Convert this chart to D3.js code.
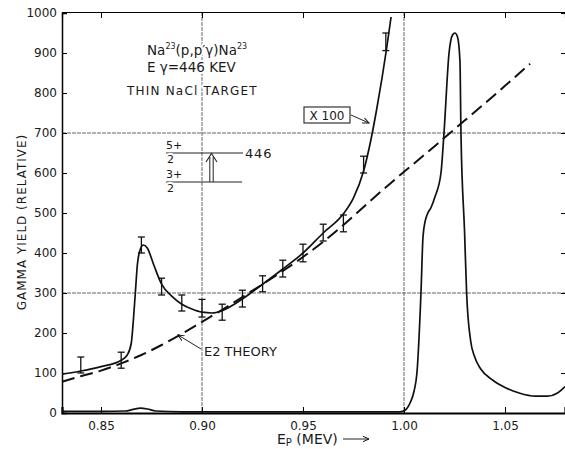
<!DOCTYPE html>
<html>
<head>
<meta charset="utf-8">
<script src="https://cdn.jsdelivr.net/npm/d3@7"></script>
<style>
body { margin: 0; background: #fff; }
text { font-family: "DejaVu Sans", sans-serif; fill: #1a1a1a; }
.halo { paint-order: stroke; stroke: #fff; stroke-width: 4px; stroke-linejoin: round; }
</style>
</head>
<body>
<svg id="chart" width="565" height="449"></svg>
<script>
// axis ticks
const xTicks = [0.85, 0.90, 0.95, 1.00, 1.05];
const xTickLabels = ["0.85", "0.90", "0.95", "1.00", "1.05"];
const yTicks = [0, 100, 200, 300, 400, 500, 600, 700, 800, 900, 1000];
const xGrid = [0.90, 1.00];
const yGrid = [300, 700];

// measured points with error bars (thin target, yield x100)
const ptE   = [0.84, 0.86, 0.87, 0.88, 0.89, 0.90, 0.91, 0.92, 0.93, 0.94, 0.95, 0.96, 0.97, 0.98, 0.991];
const ptY   = [120, 132, 420, 316, 275, 262, 252, 286, 323, 361, 400, 451, 474, 621, 928];
const ptErr = [20, 20, 20, 21, 20, 22, 20, 21, 20, 21, 22, 21, 21, 21, 22];

// solid curve through the points (x100)
const fitE = [0.8307, 0.84, 0.85, 0.86, 0.863, 0.865, 0.866, 0.867, 0.868, 0.8695, 0.871, 0.873, 0.876, 0.88, 0.885, 0.89, 0.895, 0.90, 0.905, 0.91, 0.92, 0.93, 0.94, 0.95, 0.96, 0.97, 0.975, 0.98, 0.9835, 0.9865, 0.9915, 0.9936];
const fitY = [97, 105, 116, 132, 145, 175, 230, 300, 370, 410, 420, 412, 372, 322, 292, 272, 260, 252, 250, 256, 285, 322, 360, 400, 450, 498, 538, 605, 680, 760, 915, 990];

// E2 theory (dashed)
const e2E = [0.8307, 0.84, 0.85, 0.86, 0.87, 0.88, 0.89, 0.90, 0.91, 0.92, 0.93, 0.94, 0.95, 0.96, 0.97, 0.98, 0.99, 1.00, 1.01, 1.02, 1.03, 1.04, 1.05, 1.0624];
const e2Y = [78, 92, 106, 124, 145, 170, 198, 228, 258, 290, 322, 355, 390, 428, 470, 515, 560, 603, 645, 688, 731, 774, 818, 873];

// unscaled yield (lower curve with the 1.025 MeV resonance)
const lowE = [0.8307, 0.85, 0.862, 0.866, 0.8695, 0.873, 0.877, 0.89, 0.95, 0.998, 1.0005, 1.003, 1.005, 1.0064, 1.0084, 1.0094, 1.0105, 1.0114, 1.0135, 1.0153, 1.0183, 1.0198, 1.0223, 1.024, 1.0252, 1.0265, 1.0277, 1.0282, 1.030, 1.031, 1.033, 1.035, 1.038, 1.044, 1.05, 1.057, 1.065, 1.071, 1.076, 1.0797];
const lowY = [4, 4, 5, 9, 12, 10, 5, 3, 3, 3, 7, 25, 55, 100, 300, 440, 480, 495, 515, 540, 600, 700, 900, 945, 950, 940, 880, 700, 450, 300, 180, 140, 110, 82, 64, 50, 42, 42, 50, 66];

const svg = d3.select("#chart");
const x = d3.scaleLinear().domain([0.8307, 1.0797]).range([62, 565]);
const y = d3.scaleLinear().domain([0, 1000]).range([413, 13]);

// grid lines
svg.append("g").selectAll("line").data(yGrid).join("line")
    .attr("x1", 62).attr("x2", 565)
    .attr("y1", d => y(d)).attr("y2", d => y(d))
    .attr("stroke", "#555").attr("stroke-width", 0.9).attr("stroke-dasharray", "4,1");
svg.append("g").selectAll("line").data(xGrid).join("line")
    .attr("x1", d => x(d)).attr("x2", d => x(d))
    .attr("y1", 12).attr("y2", 413)
    .attr("stroke", "#555").attr("stroke-width", 0.9).attr("stroke-dasharray", "4,1");

// axes
const fmt = d => xTickLabels[xTicks.indexOf(d)];
svg.append("g").attr("transform", "translate(0,413)")
    .call(d3.axisBottom(x).tickValues(xTicks).tickFormat(fmt).tickSize(-6).tickPadding(8))
    .call(g => g.select(".domain").attr("stroke-width", 2.2))
    .call(g => g.selectAll("text").attr("font-size", 12).attr("font-family", "DejaVu Sans"));
svg.append("g").attr("transform", "translate(0,12)")
    .call(d3.axisTop(x).tickValues(xTicks).tickFormat("").tickSize(-6))
    .call(g => g.select(".domain").attr("stroke-width", 1.2));
svg.append("g").attr("transform", "translate(62,0)")
    .call(d3.axisLeft(y).tickValues(yTicks).tickFormat(d3.format("d")).tickSize(-5).tickPadding(5))
    .call(g => g.select(".domain").attr("stroke-width", 1.5))
    .call(g => g.selectAll("text").attr("font-size", 12).attr("font-family", "DejaVu Sans"));
svg.append("g").attr("transform", "translate(565,0)")
    .call(d3.axisRight(y).tickValues(yTicks).tickFormat("").tickSize(-4))
    .call(g => g.select(".domain").remove());

// curves
const line = d3.line().x(d => x(d[0])).y(d => y(d[1])).curve(d3.curveMonotoneX);
svg.append("path").datum(d3.zip(e2E, e2Y)).attr("d", line)
    .attr("fill", "none").attr("stroke", "#111").attr("stroke-width", 2)
    .attr("stroke-dasharray", "13,6");
svg.append("path").datum(d3.zip(fitE, fitY)).attr("d", line)
    .attr("fill", "none").attr("stroke", "#111").attr("stroke-width", 1.7);
svg.append("path").datum(d3.zip(lowE, lowY)).attr("d", line)
    .attr("fill", "none").attr("stroke", "#111").attr("stroke-width", 1.7);

// error bars
const eb = svg.append("g").attr("stroke", "#111").attr("stroke-width", 1.3)
    .selectAll("g").data(d3.range(ptE.length)).join("g");
eb.append("line")
    .attr("x1", i => x(ptE[i])).attr("x2", i => x(ptE[i]))
    .attr("y1", i => y(ptY[i] + ptErr[i])).attr("y2", i => y(ptY[i] - ptErr[i]));
[1, -1].forEach(s => eb.append("line")
    .attr("x1", i => x(ptE[i]) - 3.5).attr("x2", i => x(ptE[i]) + 3.5)
    .attr("y1", i => y(ptY[i] + s * ptErr[i])).attr("y2", i => y(ptY[i] + s * ptErr[i])));

// arrow marker
svg.append("defs").append("marker")
    .attr("id", "ah").attr("viewBox", "0 0 10 10").attr("refX", 9).attr("refY", 5)
    .attr("markerWidth", 7).attr("markerHeight", 7).attr("orient", "auto-start-reverse")
    .append("path").attr("d", "M0,1L9,5L0,9").attr("fill", "none").attr("stroke", "#111").attr("stroke-width", 1.4);

// annotations
const ann = svg.append("g");
const t1 = ann.append("text").attr("class", "halo").attr("x", 147).attr("y", 55).attr("font-size", 13.5);
t1.append("tspan").text("Na");
t1.append("tspan").attr("font-size", 8).attr("dy", -6).text("23");
t1.append("tspan").attr("dy", 6).text("(p,p′γ)Na");
t1.append("tspan").attr("font-size", 8).attr("dy", -6).text("23");
ann.append("text").attr("class", "halo").attr("x", 147).attr("y", 72).attr("font-size", 13.5).text("E γ=446 KEV");
ann.append("text").attr("class", "halo").attr("x", 127).attr("y", 95).attr("font-size", 12)
    .attr("letter-spacing", 1.2).text("THIN NaCl TARGET");

// level diagram
ann.append("line").attr("x1", 166).attr("x2", 243).attr("y1", 153).attr("y2", 153).attr("stroke", "#222").attr("stroke-width", 1);
ann.append("line").attr("x1", 166).attr("x2", 242).attr("y1", 182).attr("y2", 182).attr("stroke", "#222").attr("stroke-width", 1);
ann.append("text").attr("class", "halo").attr("x", 166).attr("y", 149).attr("font-size", 11).text("5+");
ann.append("text").attr("class", "halo").attr("x", 167).attr("y", 163).attr("font-size", 11).text("2");
ann.append("text").attr("class", "halo").attr("x", 166).attr("y", 178).attr("font-size", 11).text("3+");
ann.append("text").attr("class", "halo").attr("x", 167).attr("y", 192).attr("font-size", 11).text("2");
ann.append("text").attr("x", 245).attr("y", 158).attr("font-size", 13).attr("letter-spacing", 0.8).text("446");
ann.append("line").attr("x1", 209.8).attr("x2", 209.8).attr("y1", 182).attr("y2", 157).attr("stroke", "#222").attr("stroke-width", 1);
ann.append("line").attr("x1", 213.2).attr("x2", 213.2).attr("y1", 182).attr("y2", 157).attr("stroke", "#222").attr("stroke-width", 1);
ann.append("path").attr("d", "M206,162L211.5,153.5L217,162").attr("fill", "none").attr("stroke", "#222").attr("stroke-width", 1.1);

// x100 box
ann.append("rect").attr("x", 304).attr("y", 107).attr("width", 46).attr("height", 16)
    .attr("fill", "#fff").attr("stroke", "#222").attr("stroke-width", 1.1);
ann.append("text").attr("x", 327).attr("y", 120).attr("text-anchor", "middle").attr("font-size", 12).text("X 100");
ann.append("line").attr("x1", 351).attr("y1", 115).attr("x2", 369).attr("y2", 123)
    .attr("stroke", "#222").attr("stroke-width", 1).attr("marker-end", "url(#ah)");

// E2 theory label
ann.append("text").attr("class", "halo").attr("x", 204).attr("y", 356).attr("font-size", 13).text("E2 THEORY");
ann.append("line").attr("x1", 201).attr("y1", 349).attr("x2", 178).attr("y2", 335)
    .attr("stroke", "#222").attr("stroke-width", 1).attr("marker-end", "url(#ah)");

// axis titles
svg.append("text").attr("transform", "translate(26,222) rotate(-90)").attr("text-anchor", "middle")
    .attr("font-size", 12).attr("letter-spacing", 1).text("GAMMA YIELD (RELATIVE)");
const xl = svg.append("text").attr("x", 277).attr("y", 444).attr("font-size", 14);
xl.append("tspan").text("E");
xl.append("tspan").attr("font-size", 10).attr("dy", 2).text("P");
xl.append("tspan").attr("dy", -2).text(" (MEV)");
svg.append("line").attr("x1", 343).attr("y1", 439).attr("x2", 369).attr("y2", 439)
    .attr("stroke", "#222").attr("stroke-width", 1).attr("marker-end", "url(#ah)");
</script>
</body>
</html>
